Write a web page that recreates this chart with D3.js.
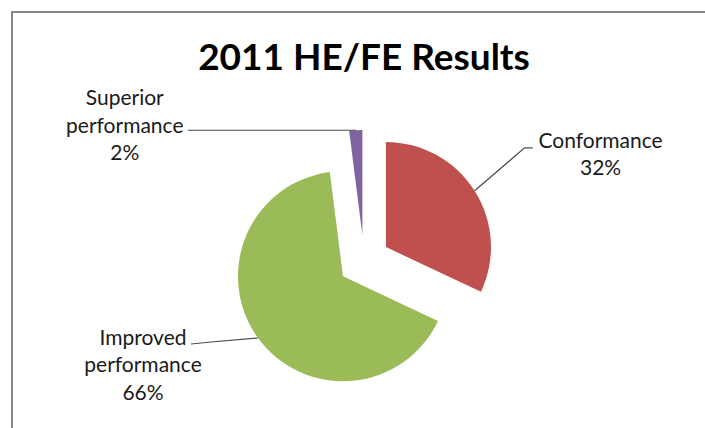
<!DOCTYPE html>
<html>
<head>
<meta charset="utf-8">
<script src="https://cdn.jsdelivr.net/npm/d3@7"></script>
<style>
  body { margin: 0; background: #fff; }
  text { font-family: Lato, "Open Sans", sans-serif; fill: #1a1a1a; }
</style>
</head>
<body>
<div id="chart"></div>
<script>
// data
var categories = ["Conformance", "Improved performance", "Superior performance"];
var values = [32, 66, 2];
var labelNames = [["Conformance"], ["Improved", "performance"], ["Superior", "performance"]];
var sliceColors = ["#C0504D", "#9BBB59", "#8064A2"];

var width = 705, height = 428;
var cx = 364, cy = 261;
var radius = 105;
var explode = 26;

var svg = d3.select("#chart").append("svg")
    .attr("width", width)
    .attr("height", height);

// chart frame
svg.append("rect")
    .attr("x", 12).attr("y", 12)
    .attr("width", width + 20).attr("height", height + 20)
    .attr("fill", "none")
    .attr("stroke", "#868686")
    .attr("stroke-width", 2);

svg.append("text")
    .attr("x", cx)
    .attr("y", 70)
    .attr("text-anchor", "middle")
    .style("font-weight", "bold")
    .style("font-size", "37px")
    .style("fill", "#000")
    .text("2011 HE/FE Results");

var table = categories.map(function(c, i) { return {name: c, value: values[i], lines: labelNames[i]}; });
var total = d3.sum(values);

var pie = d3.pie().sort(null).value(function(d) { return d.value; });
var color = d3.scaleOrdinal().domain(categories).range(sliceColors);

var arc = d3.arc().innerRadius(0).outerRadius(radius);
var edgeArc = d3.arc().innerRadius(radius).outerRadius(radius);
var offArc = d3.arc().innerRadius(explode).outerRadius(explode);

var arcs = pie(table);

var slices = svg.selectAll("g.pie")
    .data(arcs)
    .enter()
    .append("g")
    .attr("class", "pie")
    .attr("transform", function(d) {
        var o = offArc.centroid(d);
        return "translate(" + (cx + o[0]) + "," + (cy + o[1]) + ")";
    });

slices.append("path")
    .attr("fill", function(d) { return color(d.data.name); })
    .attr("d", arc);

// label layout, relative to the point on the outer edge at mid angle
var labelLayout = [
    {pts: [[50, -43], [58, -43]], tx: 126, ty: -43},
    {pts: [[-47, 4], [-67, 6]], tx: -115, ty: 7},
    {pts: [[-168, 0]], tx: -231, ty: -25}
];

arcs.forEach(function(d, i) {
    var o = offArc.centroid(d);
    var e = edgeArc.centroid(d);
    var p0 = [cx + o[0] + e[0], cy + o[1] + e[1]];
    var lay = labelLayout[i];
    var line = [p0].concat(lay.pts.map(function(p) { return [p0[0] + p[0], p0[1] + p[1]]; }));

    svg.append("path")
        .attr("d", d3.line()(line))
        .attr("fill", "none")
        .attr("stroke", "#4a4a4a")
        .attr("stroke-width", 1.2);

    var lines = d.data.lines.concat([Math.round(d.data.value / total * 100) + "%"]);
    var t = svg.append("text")
        .attr("text-anchor", "middle")
        .style("font-size", "21px");
    lines.forEach(function(s, k) {
        t.append("tspan")
            .attr("x", p0[0] + lay.tx)
            .attr("y", p0[1] + lay.ty + k * 27.5)
            .text(s);
    });
});
</script>
</body>
</html>
